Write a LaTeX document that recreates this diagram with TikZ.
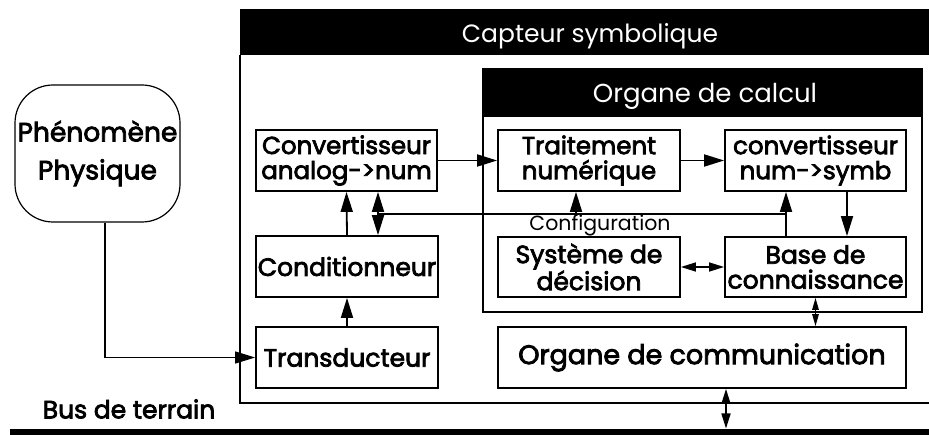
\documentclass[tikz,border=0pt]{standalone}
\usepackage{fontspec}
\setmainfont{Poppins}
\newfontfamily\medf{Poppins}[FakeBold=3]
\newcommand\myfs[1]{\medf\fontsize{#1}{25}\selectfont}
\usetikzlibrary{arrows.meta}
\begin{document}
\begin{tikzpicture}[x=1pt,y=-1pt,
  blk/.style={draw,line width=1.8pt,inner sep=0pt,align=center},
  arr/.style={line width=1.8pt,-{Triangle[length=20pt,width=12pt]}},
  darr/.style={line width=1.6pt,{Triangle[length=15pt,width=9pt]}-{Triangle[length=15pt,width=9pt]}},
  sarr/.style={line width=1.4pt,{Triangle[length=12pt,width=6.5pt]}-{Triangle[length=12pt,width=6.5pt]}},
  ttl/.style={text=white},
]
\useasboundingbox (0,0) rectangle (929,435);
% outer capteur
\fill (240,9) rectangle (935,55);
\draw[line width=1.8pt] (240,55) -- (240,403) -- (935,403);
\node[ttl,font=\fontsize{25}{28}\selectfont] (capt) at (590,36) {Capteur symbolique};
% organe de calcul
\fill (483,69) rectangle (922,117);
\draw[line width=1.8pt] (483,69) rectangle (922,312);
\node[ttl,font=\fontsize{26}{28}\selectfont] (calc) at (705,96) {Organe de calcul};
% bus
\fill (10,428.5) rectangle (935,436);
\node[font=\myfs{25}] (busl) at (129,409) {Bus de terrain};
\coordinate (bus) at (726,428.5);
% phenomene
\node[draw,line width=1.2pt,rounded corners=38pt,minimum width=165pt,minimum height=137pt,align=center,inner sep=0pt,
  font=\medf\fontsize{26.5}{38}\selectfont] (phen) at (97.5,153.5) {Phénomène\\Physique};
% blocks
\node[blk,font=\myfs{24.5},minimum width=181pt,minimum height=61pt] (convA) at (346.5,160.5) {Convertisseur\\analog->num};
\node[blk,font=\myfs{25},minimum width=182pt,minimum height=61pt] (cond) at (347,266.5) {Conditionneur};
\node[blk,font=\myfs{25},minimum width=182pt,minimum height=61pt] (trans) at (347,357.5) {Transducteur};
\node[blk,font=\myfs{24.5},minimum width=182pt,minimum height=61pt] (trait) at (589,160.5) {Traitement\\numérique};
\node[blk,font=\myfs{24.5},minimum width=181pt,minimum height=61pt] (convS) at (815.5,160.5) {convertisseur\\num->symb};
\node[blk,font=\myfs{25},minimum width=182pt,minimum height=60pt] (sys) at (589,267) {Système de\\décision};
\node[blk,font=\myfs{25},minimum width=181pt,minimum height=60pt] (base) at (815.5,267) {Base de\\connaissance};
\node[blk,font=\myfs{27},minimum width=408pt,minimum height=61pt] (comm) at (702,357.5) {Organe de communication};
\node[font=\fontsize{20.5}{22}\selectfont] (cfgl) at (600,225) {Configuration};
% connectors
\draw[line width=1.2pt,-{Triangle[length=20pt,width=12pt]}] ([xshift=7.5pt]phen.south) |- (trans.west);
\draw[arr] (trans.north) -- (cond.south);
\draw[arr] (cond.north) -- (convA.south);
\coordinate (cfg) at (378,214);
\coordinate (cfgR) at (786,214);
\draw[line width=1.8pt] (cfg) -- (cfgR);
\draw[arr] (cfg) -- (convA.south -| cfg);
\draw[arr] (cfg) -- (cond.north -| cfg);
\draw[arr] (576,214) -- (trait.south -| 576,0);
\draw[arr] (base.north -| cfgR) -- (convS.south -| cfgR);
\draw[arr] (convA.east) -- (trait.west);
\draw[arr] (trait.east) -- (convS.west);
\draw[arr] (convS.south -| 847,0) -- (base.north -| 847,0);
\draw[darr] (sys.east) -- (base.west);
\draw[sarr] (base.south) -- (base.south |- comm.north);
\draw[darr] (comm.south -| bus) -- (bus);
\end{tikzpicture}
\end{document}
